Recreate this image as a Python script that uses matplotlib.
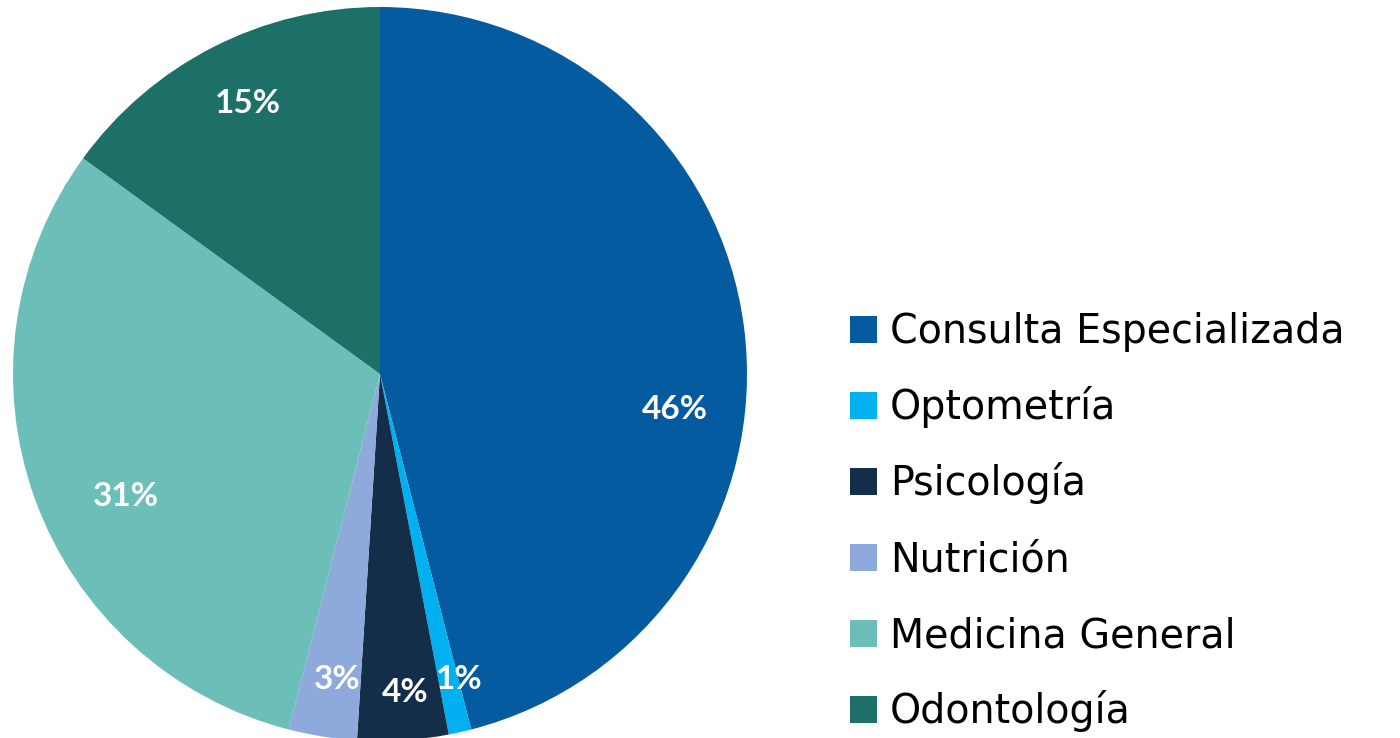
import numpy as np
import matplotlib
matplotlib.use("Agg")
import matplotlib.pyplot as plt
from matplotlib.patches import Rectangle

categories = ["Consulta Especializada", "Optometría", "Psicología",
              "Nutrición", "Medicina General", "Odontología"]
values = [46, 1, 4, 3, 31, 15]
labels = ["46%", "1%", "4%", "3%", "31%", "15%"]
colors = ["#045B9F", "#00B0F0", "#142D48", "#8EA9DB", "#6CBEB8", "#1D7068"]

# label placement tweaks (radius fraction, angle offset in degrees)
label_r = [0.81, 0.86, 0.87, 0.84, 0.77, 0.82]
label_dang = [-14, 2, 1, 1, 6, -1]

W, H = 1400, 738
fig = plt.figure(figsize=(W / 100, H / 100), dpi=100)
cx, cy, R = 380, 374, 367
ax = fig.add_axes([(cx - R) / W, (H - cy - R) / H, 2 * R / W, 2 * R / H])
ax.axis("off")

wedges, _ = ax.pie(values, colors=colors, startangle=90, counterclock=False,
                   radius=1, wedgeprops=dict(linewidth=0))
ax.set_xlim(-1, 1)
ax.set_ylim(-1, 1)
ax.set_aspect("equal")

for w, lab, rf, da in zip(wedges, labels, label_r, label_dang):
    mid = np.deg2rad((w.theta1 + w.theta2) / 2 + da)
    ax.text(rf * np.cos(mid), rf * np.sin(mid), lab, color="white",
            fontsize=24, fontweight="bold", family="Lato",
            ha="center", va="center")

# legend drawn manually in pixel layout
leg_x, leg_y0, leg_dy, sq = 850, 329, 76, 27
for i, (cat, col) in enumerate(zip(categories, colors)):
    yc = leg_y0 + i * leg_dy
    fig.patches.append(Rectangle(((leg_x) / W, (H - yc - sq / 2) / H), sq / W, sq / H,
                                 transform=fig.transFigure, facecolor=col,
                                 edgecolor="none"))
    fig.text((leg_x + sq + 13) / W, (H - yc - sq / 2 - 1) / H, cat,
             family="DejaVu Sans", fontsize=28.5, color="black",
             ha="left", va="baseline")

fig.savefig("out.png", dpi=100)
